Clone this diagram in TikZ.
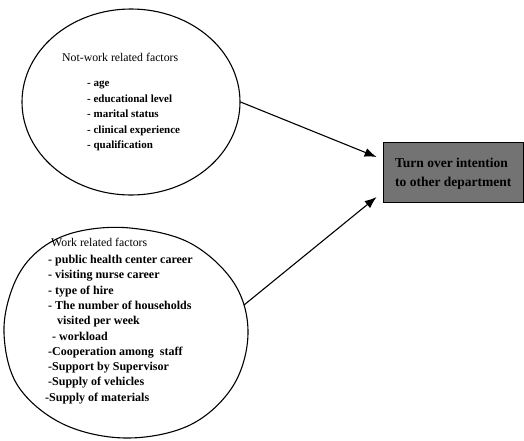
\documentclass[tikz,border=0pt]{standalone}
\usepackage{fontspec}
\setmainfont{Liberation Serif}
\usetikzlibrary{shapes.geometric,arrows.meta}
\begin{document}
\begin{tikzpicture}[x=1pt,y=-1pt,
  factor/.style={draw,ellipse,line width=1.1pt,inner sep=0pt},
  outline/.style={line width=1.1pt},
  ftext/.style={anchor=north west,align=left,inner sep=0pt},
  arr/.style={-{Latex[length=12pt,width=9pt]},line width=1.1pt},
  outcome/.style={draw,line width=0.8pt,fill=black!55,minimum width=140pt,minimum height=60pt,inner sep=0pt},
  outtext/.style={anchor=west,align=left,inner sep=0pt,font=\fontsize{13.5}{19}\selectfont\bfseries}]
\useasboundingbox (0,0) rectangle (524,440);
\node[factor,minimum width=218pt,minimum height=186pt] (top) at (131,102) {};
\draw[outline] plot[smooth cycle,tension=0.6] coordinates {(248,333) (234,283) (190,243) (130,228) (76,232) (38,251) (14,284) (4,333) (18,386) (63,424) (126,438) (190,425) (233,386)};
\coordinate (botpt) at (244,305);
\node[ftext,font=\fontsize{11.8}{15.5}\selectfont] (toptitle) at (62,53) {Not-work related factors};
\node[ftext,font=\fontsize{11}{15.5}\selectfont\bfseries] (toplist) at (87,81) {- age\\- educational level\\- marital status\\- clinical experience\\- qualification};
\node[ftext,font=\fontsize{11.8}{15.2}\selectfont] (bottitle) at (51,238) {Work related factors};
\node[ftext,font=\fontsize{12}{15.3}\selectfont\bfseries] (botlist) at (45,255) {\hspace{3pt}- public health center career\\\hspace{3pt}- visiting nurse career\\\hspace{3pt}- type of hire\\\hspace{3pt}- The number of households\\\hspace{12pt}visited per week\\\hspace{7pt}- workload\\\hspace{3pt}-Cooperation among\ \ staff\\\hspace{3pt}-Support by Supervisor\\\hspace{3pt}-Supply of vehicles\\-Supply of materials};
\node[outcome] (out) at (453,172) {};
\node[outtext] (outlabel) at (395,174) {Turn over intention\\to other department};
\draw[arr] (top.east) -- ([xshift=-6pt,yshift=15pt]out.west);
\draw[arr] (botpt) -- ([xshift=-6pt,yshift=-25pt]out.west);
\end{tikzpicture}
\end{document}
